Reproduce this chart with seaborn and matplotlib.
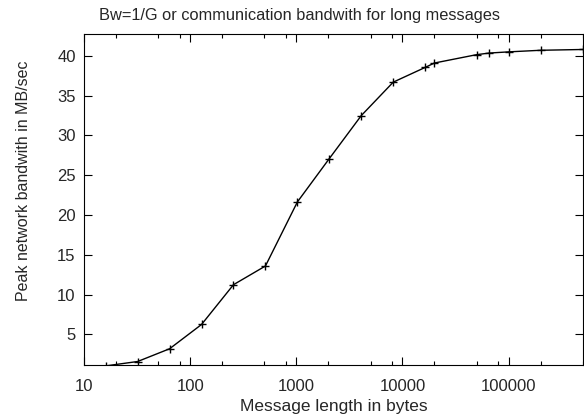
import matplotlib
matplotlib.use("Agg")
import matplotlib.pyplot as plt
import matplotlib.ticker as mticker
import pandas as pd
import seaborn as sns

# Message sizes (bytes) and measured peak bandwidth (MB/sec)
msg_bytes = [16, 32, 64, 128, 256, 512, 1024, 2048, 4096, 8192, 16384,
             20000, 50000, 65536, 100000, 200000, 500000]
bandwidth = [1.05, 1.6, 3.2, 6.25, 11.25, 13.6, 21.65, 27.1, 32.5, 36.7,
             38.55, 39.1, 40.15, 40.35, 40.5, 40.7, 40.8]

x_ticks = [10, 100, 1000, 10000, 100000]
y_ticks = [5, 10, 15, 20, 25, 30, 35, 40]

df = pd.DataFrame({"bytes": msg_bytes, "bw": bandwidth})

sns.set_style("ticks")
plt.rcParams['font.family'] = ['Liberation Sans', 'DejaVu Sans']

fig = plt.figure(figsize=(5.84, 4.19), dpi=100)
ax = fig.add_axes([0.1438, 0.1277, 0.998 - 0.1438, 0.918 - 0.1277])

sns.lineplot(data=df, x="bytes", y="bw", ax=ax, color="black", linewidth=1.0,
             marker="+", markersize=5.5, markeredgewidth=1.0, markeredgecolor="black")

ax.set_xscale("log")
ax.set_xlim(10, 500000)
ax.set_ylim(1.1, 42.7)

ax.xaxis.set_major_locator(mticker.FixedLocator(x_ticks))
ax.xaxis.set_major_formatter(mticker.FixedFormatter([str(t) for t in x_ticks]))
ax.xaxis.set_minor_locator(mticker.LogLocator(base=10, subs=[2, 5, 8]))
ax.xaxis.set_minor_formatter(mticker.NullFormatter())
ax.set_yticks(y_ticks)

ax.tick_params(which="both", direction="in", top=True, right=True,
               labelsize=12, color="black", width=0.8)
ax.tick_params(which="major", length=6)
ax.tick_params(axis="x", which="major", pad=10)
ax.tick_params(axis="y", which="major", pad=6)
ax.tick_params(which="minor", length=3)

for s in ax.spines.values():
    s.set_visible(True)
    s.set_linewidth(0.8)
    s.set_color("black")

ax.set_title("Bw=1/G or communication bandwith for long messages",
             fontsize=11.8, pad=10, x=0.432)
ax.set_xlabel("Message length in bytes", fontsize=12.5, labelpad=3)
ax.set_ylabel("Peak network bandwith in MB/sec", fontsize=11.5)
ax.yaxis.set_label_coords(-0.106, 0.557)

fig.savefig("out.png", dpi=100)
